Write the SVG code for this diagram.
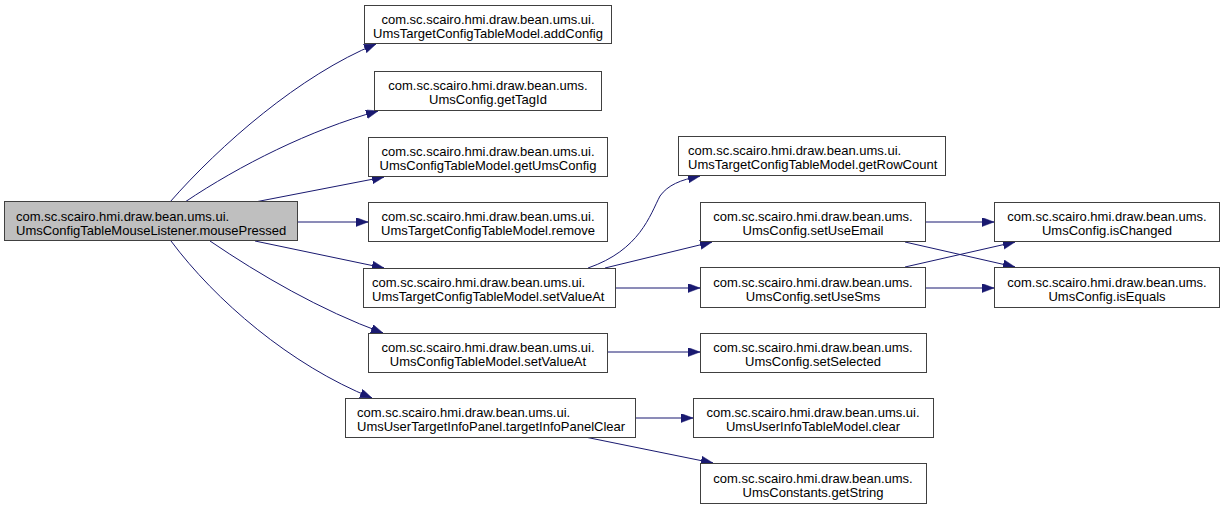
<svg xmlns="http://www.w3.org/2000/svg" width="1225" height="509" viewBox="0 0 1225 509">
<style>
.box{fill:#ffffff;stroke:#404040;stroke-width:1}
.main{fill:#bfbfbf;stroke:#404040;stroke-width:1}
text{font-family:"Liberation Sans",Arial,sans-serif;font-size:13px;fill:#000;text-anchor:middle}
text.l{text-anchor:start}
.e{fill:none;stroke:#191970;stroke-width:1;marker-end:url(#ah)}
</style>
<defs>
<marker id="ah" markerUnits="userSpaceOnUse" markerWidth="13" markerHeight="10" refX="12" refY="4.5" orient="auto">
<path d="M0,0 L12,4.5 L0,9 Z" fill="#191970" stroke="#191970" stroke-width="0.5"/>
</marker>
</defs>
<rect width="1225" height="509" fill="#ffffff"/>
<g id="connectors">
<path class="e" d="M170,202 C220,145 300,75 376,44"/>
<path class="e" d="M185,202 C240,165 310,130 378,111"/>
<path class="e" d="M255,202 L384,177"/>
<path class="e" d="M297,222 L368,222"/>
<path class="e" d="M255,241 L384,268"/>
<path class="e" d="M210,241 C260,275 320,310 383,333"/>
<path class="e" d="M171,241 C215,300 290,365 372,398"/>
<path class="e" d="M588,268 C640,250 650,215 660,196 C668,185 680,180 700,176"/>
<path class="e" d="M605,268 L712,242"/>
<path class="e" d="M615,288 L700,288"/>
<path class="e" d="M925,222 L994,222"/>
<path class="e" d="M905,242 L1015,267"/>
<path class="e" d="M905,267 L1015,242"/>
<path class="e" d="M925,288 L994,288"/>
<path class="e" d="M607,352 L700,352"/>
<path class="e" d="M635,418 L693,418"/>
<path class="e" d="M585,437 L713,463"/>
</g>
<g id="n_main"><rect class="main" x="4.5" y="201.5" width="293" height="39"/><text class="l" x="16" y="221">com.sc.scairo.hmi.draw.bean.ums.ui.</text><text class="l" x="16" y="235">UmsConfigTableMouseListener.mousePressed</text></g>
<g id="n_addConfig"><rect class="box" x="364.5" y="5.5" width="247" height="38"/><text x="488" y="24">com.sc.scairo.hmi.draw.bean.ums.ui.</text><text x="488" y="38">UmsTargetConfigTableModel.addConfig</text></g>
<g id="n_getTagId"><rect class="box" x="374.5" y="71.5" width="227" height="39"/><text x="488" y="90">com.sc.scairo.hmi.draw.bean.ums.</text><text x="488" y="104">UmsConfig.getTagId</text></g>
<g id="n_getUmsConfig"><rect class="box" x="368.5" y="137.5" width="239" height="39"/><text x="488" y="156">com.sc.scairo.hmi.draw.bean.ums.ui.</text><text x="488" y="170">UmsConfigTableModel.getUmsConfig</text></g>
<g id="n_remove"><rect class="box" x="368.5" y="202.5" width="239" height="39"/><text x="488" y="221">com.sc.scairo.hmi.draw.bean.ums.ui.</text><text x="488" y="235">UmsTargetConfigTableModel.remove</text></g>
<g id="n_tSetValueAt"><rect class="box" x="363.5" y="268.5" width="252" height="39"/><text class="l" x="372" y="287">com.sc.scairo.hmi.draw.bean.ums.ui.</text><text class="l" x="372" y="301">UmsTargetConfigTableModel.setValueAt</text></g>
<g id="n_cSetValueAt"><rect class="box" x="368.5" y="333.5" width="239" height="39"/><text x="488" y="352">com.sc.scairo.hmi.draw.bean.ums.ui.</text><text x="488" y="366">UmsConfigTableModel.setValueAt</text></g>
<g id="n_panelClear"><rect class="box" x="345.5" y="398.5" width="290" height="39"/><text class="l" x="357" y="417">com.sc.scairo.hmi.draw.bean.ums.ui.</text><text class="l" x="357" y="431">UmsUserTargetInfoPanel.targetInfoPanelClear</text></g>
<g id="n_getRowCount"><rect class="box" x="678.5" y="136.5" width="267" height="39"/><text class="l" x="688" y="155">com.sc.scairo.hmi.draw.bean.ums.ui.</text><text class="l" x="688" y="169">UmsTargetConfigTableModel.getRowCount</text></g>
<g id="n_setUseEmail"><rect class="box" x="700.5" y="202.5" width="225" height="39"/><text x="813" y="221">com.sc.scairo.hmi.draw.bean.ums.</text><text x="813" y="235">UmsConfig.setUseEmail</text></g>
<g id="n_setUseSms"><rect class="box" x="700.5" y="267.5" width="225" height="40"/><text x="813" y="287">com.sc.scairo.hmi.draw.bean.ums.</text><text x="813" y="301">UmsConfig.setUseSms</text></g>
<g id="n_isChanged"><rect class="box" x="994.5" y="202.5" width="225" height="39"/><text x="1107" y="221">com.sc.scairo.hmi.draw.bean.ums.</text><text x="1107" y="235">UmsConfig.isChanged</text></g>
<g id="n_isEquals"><rect class="box" x="994.5" y="267.5" width="225" height="40"/><text x="1107" y="287">com.sc.scairo.hmi.draw.bean.ums.</text><text x="1107" y="301">UmsConfig.isEquals</text></g>
<g id="n_setSelected"><rect class="box" x="700.5" y="333.5" width="226" height="39"/><text x="813" y="352">com.sc.scairo.hmi.draw.bean.ums.</text><text x="813" y="366">UmsConfig.setSelected</text></g>
<g id="n_clear"><rect class="box" x="693.5" y="398.5" width="240" height="39"/><text x="813" y="417">com.sc.scairo.hmi.draw.bean.ums.ui.</text><text x="813" y="431">UmsUserInfoTableModel.clear</text></g>
<g id="n_getString"><rect class="box" x="700.5" y="463.5" width="226" height="40"/><text x="813" y="483">com.sc.scairo.hmi.draw.bean.ums.</text><text x="813" y="497">UmsConstants.getString</text></g>
</svg>
